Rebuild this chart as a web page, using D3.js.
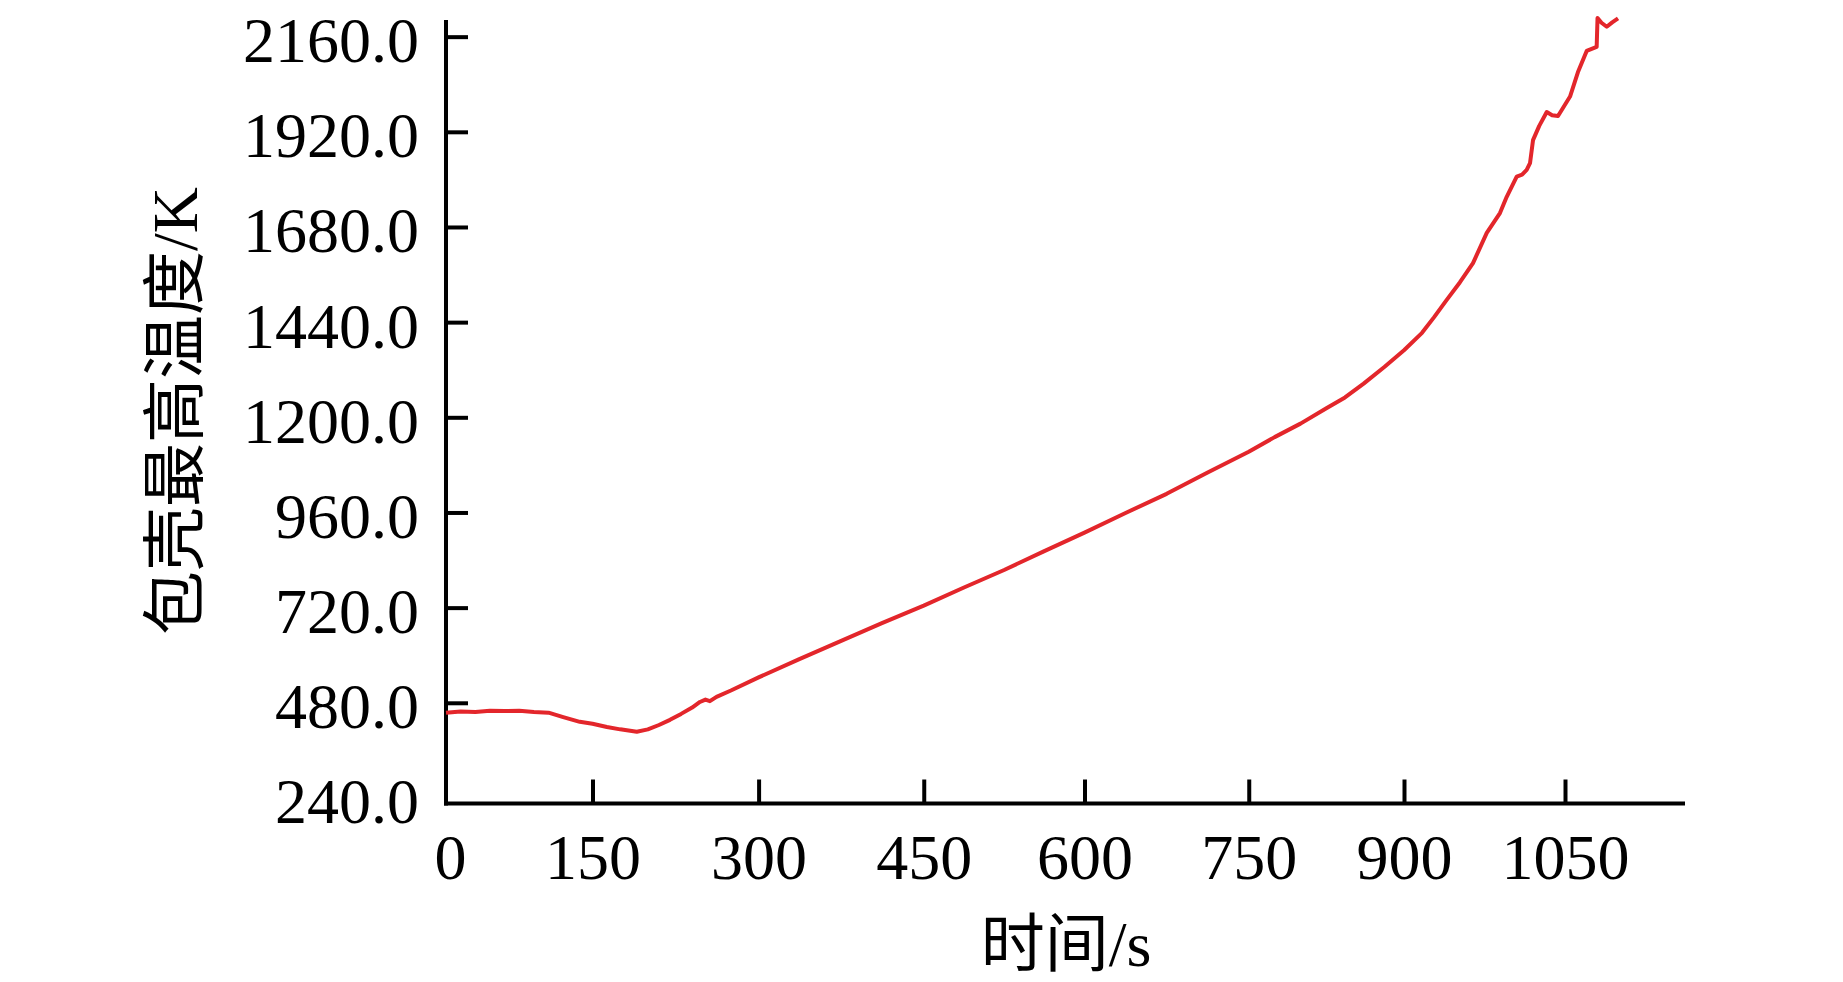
<!DOCTYPE html>
<html>
<head>
<meta charset="utf-8">
<script src="https://cdn.jsdelivr.net/npm/d3@7"></script>
<style>
  html, body { margin: 0; padding: 0; background: #fff; }
  svg { display: block; }
</style>
</head>
<body>
<svg id="chart" width="1843" height="982"></svg>
<script>
// ---- data ----
const timeS = [0, 15, 30, 45, 60, 75, 90, 105, 120, 137, 150, 163, 175, 190,
  200, 210, 220, 230, 240, 247, 252, 256, 262, 275, 300, 337, 375, 412, 450,
  487, 525, 562, 600, 637, 675, 712, 750, 775, 800, 825, 843, 861, 881, 900,
  916.8, 927.9, 939.8, 952, 964.3, 977.1, 989.4, 995.7, 1005, 1010, 1014.3,
  1017.4, 1020.2, 1026, 1033, 1038, 1043.5, 1054.7, 1062, 1070.2, 1079.5,
  1080.3, 1084, 1088.9, 1094, 1099.4];
const cladTempK = [455, 458, 457, 460, 459, 460, 457, 455, 444, 432, 427, 419,
  413, 407, 413, 424, 437, 452, 468, 482, 488, 484, 495, 511, 544, 590, 636,
  681, 725, 770, 815, 862, 909, 958, 1007, 1060, 1113, 1150, 1184, 1223, 1250,
  1285, 1327, 1369, 1413, 1452, 1496, 1540, 1589, 1665, 1715, 1756, 1807, 1812,
  1824, 1841, 1899, 1935, 1970, 1962, 1960, 2009, 2070, 2124, 2134, 2207, 2195,
  2185, 2196, 2206];
const xTickValues = [0, 150, 300, 450, 600, 750, 900, 1050];
const yTickValues = [240, 480, 720, 960, 1200, 1440, 1680, 1920, 2160];
const xTitle = "时间/s";
const yTitle = "包壳最高温度/K";

// ---- layout ----
const svg = d3.select("#chart");
const axisY0 = 803.5, axisYTop = 20;
const fontFam = "'Liberation Serif', 'Times New Roman', 'Noto Sans CJK SC', serif";

// x scale: piecewise-linear to follow the (slightly uneven) tick spacing of the original
const x = d3.scaleLinear()
  .domain([0, 150, 300, 450, 600, 750, 900, 1050, 1161.8])
  .range([446, 592.5, 758.6, 923.75, 1084.5, 1248.75, 1404, 1565, 1685]);
const y = d3.scaleLinear().domain([226, 2202]).range([axisY0, axisYTop]);

// ---- axes ----
const yAxis = d3.axisLeft(y)
  .tickValues(yTickValues)
  .tickFormat(d3.format(".1f"))
  .tickSizeInner(-22)
  .tickSizeOuter(0)
  .tickPadding(27);
const gy = svg.append("g").attr("transform", `translate(${x(0)},0)`).call(yAxis);
gy.select(".domain").attr("stroke", "#000").attr("stroke-width", 4)
  .attr("d", `M0,${axisY0 + 2}V${axisYTop}`);
gy.selectAll(".tick line").attr("stroke", "#000").attr("stroke-width", 4);
gy.selectAll(".tick").filter(d => d === 240).select("line").remove();
gy.selectAll(".tick text")
  .attr("font-family", fontFam).attr("font-size", 64).attr("fill", "#000")
  .attr("dy", "0.39em");

const xAxis = d3.axisBottom(x)
  .tickValues(xTickValues)
  .tickFormat(d3.format("d"))
  .tickSizeInner(-24)
  .tickSizeOuter(0)
  .tickPadding(30);
const gx = svg.append("g").attr("transform", `translate(0,${axisY0})`).call(xAxis);
gx.select(".domain").attr("stroke", "#000").attr("stroke-width", 4)
  .attr("d", `M${x(0) - 2},0H${x.range()[x.range().length - 1]}`);
gx.selectAll(".tick line").attr("stroke", "#000").attr("stroke-width", 4);
gx.selectAll(".tick").filter(d => d === 0).select("line").remove();
gx.selectAll(".tick text")
  .attr("font-family", fontFam).attr("font-size", 64).attr("fill", "#000");
gx.selectAll(".tick").filter(d => d === 0).select("text").attr("x", 4);

// ---- titles ----
svg.append("text")
  .attr("x", 1066).attr("y", 966)
  .attr("text-anchor", "middle")
  .attr("font-family", fontFam).attr("font-size", 64).attr("fill", "#000")
  .text(xTitle);
svg.append("text")
  .attr("transform", "translate(197,411) rotate(-90)")
  .attr("text-anchor", "middle")
  .attr("font-family", fontFam).attr("font-size", 64).attr("fill", "#000")
  .text(yTitle);

// ---- line ----
const pts = timeS.map((t, i) => [t, cladTempK[i]]);
const line = d3.line().x(d => x(d[0])).y(d => y(d[1]));
svg.append("path")
  .datum(pts)
  .attr("fill", "none")
  .attr("stroke", "#e3262b")
  .attr("stroke-width", 4)
  .attr("stroke-linejoin", "round")
  .attr("d", line);
</script>
</body>
</html>
